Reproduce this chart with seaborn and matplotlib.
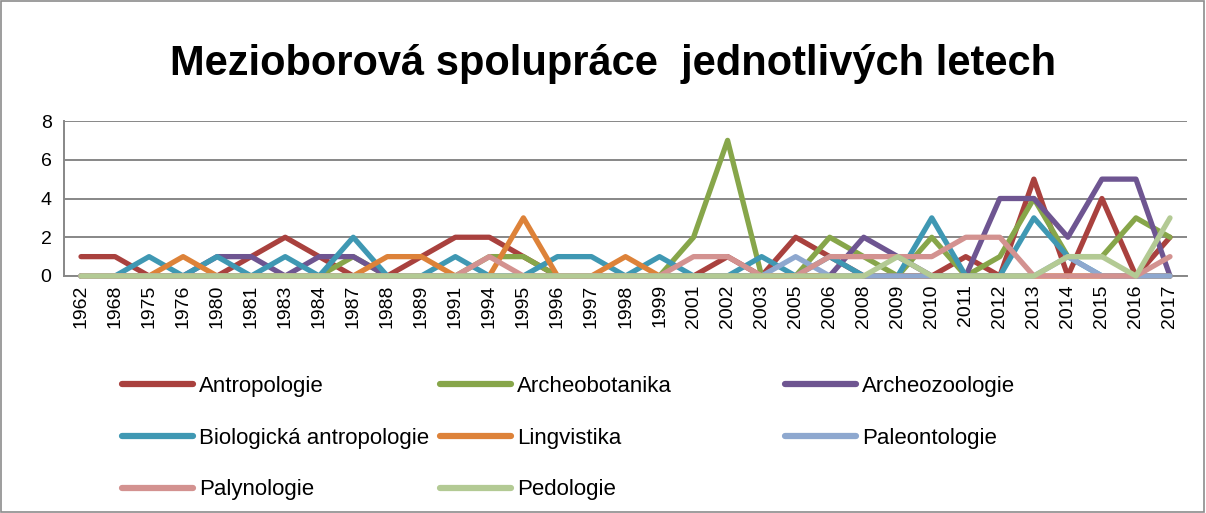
import numpy as np
import pandas as pd
import matplotlib
matplotlib.use("Agg")
import matplotlib.pyplot as plt
import seaborn as sns
from matplotlib.lines import Line2D
from matplotlib.patches import Rectangle

roky = ["1962", "1968", "1975", "1976", "1980", "1981", "1983", "1984", "1987", "1988",
        "1989", "1991", "1994", "1995", "1996", "1997", "1998", "1999", "2001", "2002",
        "2003", "2005", "2006", "2008", "2009", "2010", "2011", "2012", "2013", "2014",
        "2015", "2016", "2017"]

antropologie   = [1, 1, 0, 0, 0, 1, 2, 1, 0, 0, 1, 2, 2, 1, 0, 0, 0, 0, 0, 1, 0, 2, 1, 0, 0, 0, 1, 0, 5, 0, 4, 0, 2]
archeobotanika = [0, 0, 0, 0, 0, 0, 0, 0, 1, 0, 0, 0, 1, 1, 0, 0, 0, 0, 2, 7, 0, 0, 2, 1, 0, 2, 0, 1, 4, 1, 1, 3, 2]
archeozoologie = [0, 0, 0, 0, 1, 1, 0, 1, 1, 0, 0, 0, 0, 0, 0, 0, 0, 0, 0, 0, 0, 0, 0, 2, 1, 0, 0, 4, 4, 2, 5, 5, 0]
biol_antrop    = [0, 0, 1, 0, 1, 0, 1, 0, 2, 0, 0, 1, 0, 0, 1, 1, 0, 1, 0, 0, 1, 0, 1, 0, 0, 3, 0, 0, 3, 1, 0, 0, 0]
lingvistika    = [0, 0, 0, 1, 0, 0, 0, 0, 0, 1, 1, 0, 0, 3, 0, 0, 1, 0, 0, 0, 0, 0, 0, 0, 0, 0, 0, 0, 0, 0, 0, 0, 0]
paleontologie  = [0, 0, 0, 0, 0, 0, 0, 0, 0, 0, 0, 0, 0, 0, 0, 0, 0, 0, 0, 0, 0, 1, 0, 0, 0, 0, 0, 0, 0, 1, 0, 0, 0]
palynologie    = [0, 0, 0, 0, 0, 0, 0, 0, 0, 0, 0, 0, 1, 0, 0, 0, 0, 0, 1, 1, 0, 0, 1, 1, 1, 1, 2, 2, 0, 0, 0, 0, 1]
pedologie      = [0, 0, 0, 0, 0, 0, 0, 0, 0, 0, 0, 0, 0, 0, 0, 0, 0, 0, 0, 0, 0, 0, 0, 0, 1, 0, 0, 0, 0, 1, 1, 0, 3]

obory = ["Antropologie", "Archeobotanika", "Archeozoologie", "Biologická antropologie",
         "Lingvistika", "Paleontologie", "Palynologie", "Pedologie"]
hodnoty = [antropologie, archeobotanika, archeozoologie, biol_antrop,
           lingvistika, paleontologie, palynologie, pedologie]
barvy = ["#A9413E", "#87A64A", "#6E5591", "#3F98B3", "#DD8239", "#8EA8CF", "#D39290", "#B3CA94"]

df = pd.DataFrame({
    "rok": roky * len(obory),
    "obor": np.repeat(obory, len(roky)),
    "pocet": np.concatenate(hodnoty),
})

sns.set_style("white")
plt.rcParams["font.family"] = ["Liberation Sans", "DejaVu Sans"]
plt.rcParams["text.color"] = "black"
plt.rcParams["xtick.labelcolor"] = "black"
plt.rcParams["ytick.labelcolor"] = "black"

fig = plt.figure(figsize=(12.06, 5.13), dpi=100)
ax = fig.add_axes([64 / 1206, 1 - 276 / 513, (1187 - 64) / 1206, (276 - 121) / 513])

sns.lineplot(data=df, x="rok", y="pocet", hue="obor", hue_order=obory,
             palette=dict(zip(obory, barvy)), linewidth=3.8, legend=False, ax=ax,
             solid_joinstyle="round", solid_capstyle="round", clip_on=False, zorder=3)

ax.set_xlim(-0.5, len(roky) - 0.5)
ax.set_ylim(0, 8)
ax.set_yticks([0, 2, 4, 6, 8])
ax.set_xticks(range(len(roky)))
ax.set_xticklabels(roky, rotation=90)
ax.set_xticks(np.arange(-0.5, len(roky), 1), minor=True)
ax.tick_params(axis="x", which="major", length=0, pad=6, labelsize=14, labelcolor="black")
ax.tick_params(axis="x", which="minor", length=7, width=1.3, color="#878787", direction="out")
ax.tick_params(axis="y", length=5, width=1.3, color="#878787", labelsize=14, pad=4, labelcolor="black")
ax.yaxis.grid(True, color="#878787", linewidth=1.4)
ax.set_axisbelow(True)
for s in ["top", "right"]:
    ax.spines[s].set_visible(False)
for s in ["left", "bottom"]:
    ax.spines[s].set_color("#878787")
    ax.spines[s].set_linewidth(1.4)
ax.set_xlabel("")
ax.set_ylabel("")

fig.text(0.508, 0.875, "Mezioborová spolupráce  jednotlivých letech",
         ha="center", va="center", fontsize=30, fontweight="bold", color="black")

# legenda ve třech sloupcích jako v Excelu
handles = [Line2D([], [], color=c, linewidth=4.5, solid_capstyle="round") for c in barvy]
sloupce = [([0, 3, 6], 122), ([1, 4, 7], 440), ([2, 5], 785)]
for idx, x0 in sloupce:
    leg = fig.legend([handles[i] for i in idx], [obory[i] for i in idx],
                     loc="upper left", bbox_to_anchor=(x0 / 1206, 1 - 376 / 513),
                     frameon=False, fontsize=16, handlelength=3.2, handletextpad=0.25,
                     labelspacing=1.38, borderpad=0, borderaxespad=0, labelcolor="black")

fig.patches.append(Rectangle((0.001, 0.002), 0.997, 0.996, transform=fig.transFigure,
                             fill=False, edgecolor="#8C8C8C", linewidth=1.2))

fig.savefig("out.png", dpi=100)
